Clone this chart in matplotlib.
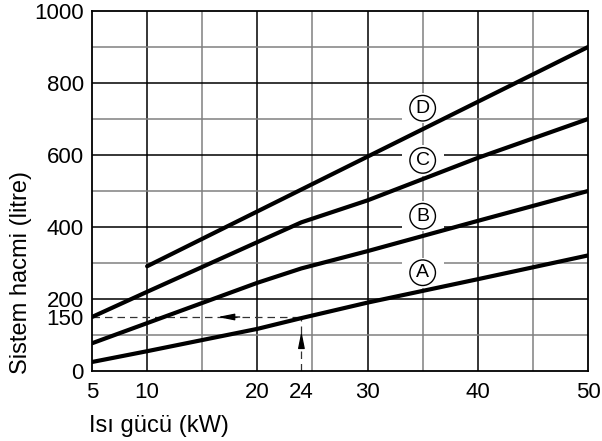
import numpy as np
import matplotlib
matplotlib.use("Agg")
import matplotlib.pyplot as plt
from matplotlib.patches import Rectangle

plt.rcParams['font.family'] = ['Liberation Sans', 'DejaVu Sans']

# curve data (heat output kW -> system volume litre)
x_a = [5, 10, 20, 24, 30, 40, 50]
y_a = [25, 55, 117, 147, 190, 255, 321]
x_b = [5, 10, 20, 24, 30, 40, 50]
y_b = [77, 133, 245, 285, 333, 417, 500]
x_c = [5, 10, 20, 24, 30, 40, 50]
y_c = [150, 220, 358, 413, 474, 592, 700]
x_d = [10, 50]
y_d = [291, 900]

curve_names = ['A', 'B', 'C', 'D']
label_x = 35
label_y = [273, 430, 585, 730]

x_ticks = [5, 10, 20, 24, 30, 40, 50]
y_ticks = [0, 150, 200, 400, 600, 800, 1000]

example_power = 24
example_volume = 150

fig = plt.figure(figsize=(6.02, 4.41), dpi=100)
ax = fig.add_axes([92/602, 1-371/441, (588-92)/602, (371-11)/441])
ax.set_xlim(5, 50)
ax.set_ylim(0, 1000)

# grid: dark on every 10 kW / 200 l, gray in between
for gx in range(10, 50, 5):
    col = 'black' if gx % 10 == 0 else '#808080'
    ax.axvline(gx, color=col, lw=1.1, zorder=1)
for gy in range(100, 1000, 100):
    col = 'black' if gy % 200 == 0 else '#808080'
    ax.axhline(gy, color=col, lw=1.1, zorder=1)

# dashed reading example
ax.plot([5, example_power], [example_volume, example_volume], color='#333333',
        lw=0.9, ls=(0, (6, 4)), zorder=2)
ax.plot([example_power, example_power], [0, example_volume], color='#333333',
        lw=0.9, ls=(0, (6, 4)), zorder=2)
ax.annotate('', xy=(16.4, example_volume), xytext=(18.4, example_volume),
            arrowprops=dict(arrowstyle='-|>,head_length=1.0,head_width=0.2',
                            color='black', lw=0.9, shrinkA=0, shrinkB=0), zorder=3)
ax.annotate('', xy=(example_power, 110), xytext=(example_power, 72),
            arrowprops=dict(arrowstyle='-|>,head_length=1.0,head_width=0.2',
                            color='black', lw=0.9, shrinkA=0, shrinkB=0), zorder=3)

# white patches that cut the grid around the circled letters
for ly in label_y:
    ax.add_patch(Rectangle((label_x - 1.9, ly - 42), 3.8, 84, facecolor='white',
                           edgecolor='none', zorder=1.5))

for xs, ys in [(x_a, y_a), (x_b, y_b), (x_c, y_c), (x_d, y_d)]:
    ax.plot(xs, ys, color='black', lw=3.0, solid_capstyle='round', zorder=4)

for name, ly in zip(curve_names, label_y):
    ax.text(label_x, ly, name, ha='center', va='center', fontsize=14, zorder=5,
            bbox=dict(boxstyle='circle,pad=0.22', fc='white', ec='black', lw=1.0))

ax.set_xticks(x_ticks)
ax.set_yticks(y_ticks)
ax.tick_params(length=0, labelsize=16)
ax.tick_params(axis='y', pad=6)
ax.tick_params(axis='x', pad=8)
for sp in ax.spines.values():
    sp.set_linewidth(1.3)

fig.text(89/602, 1-426/441, 'Isı gücü (kW)', ha='left', va='center', fontsize=17)
fig.text(10/602, 1-374/441, 'Sistem hacmi (litre)', rotation=90,
         ha='left', va='bottom', fontsize=17)

fig.savefig('out.png', dpi=100)
